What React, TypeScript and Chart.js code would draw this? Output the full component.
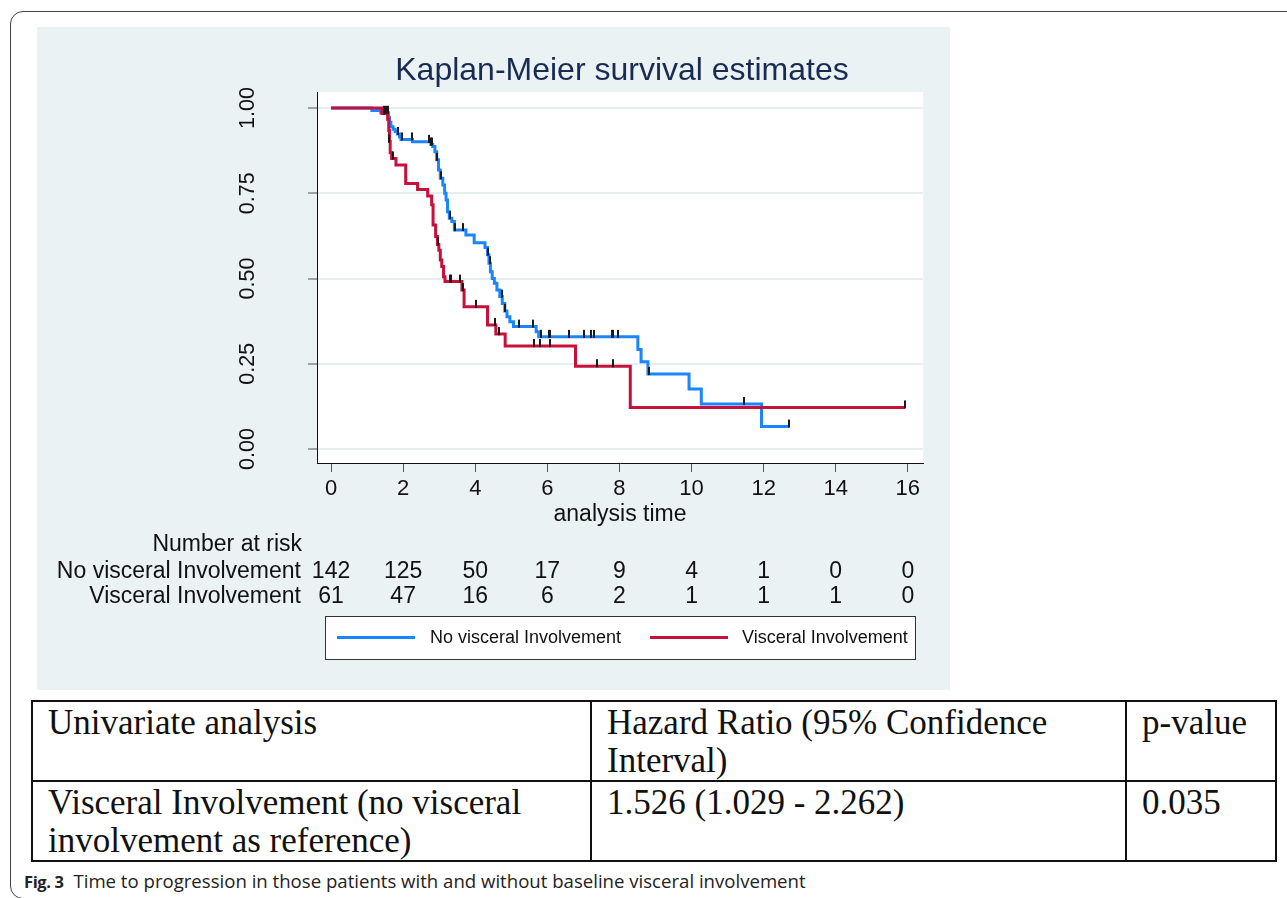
import React, { useEffect, useRef } from "react";
import { Chart, registerables } from "chart.js";
Chart.register(...registerables);

// ---------- data ----------
const chartTitle = "Kaplan-Meier survival estimates";
const xAxisTitle = "analysis time";
const xTicks = [0, 2, 4, 6, 8, 10, 12, 14, 16];
const yTicks = [0, 0.25, 0.5, 0.75, 1];
const yTickLabels = ["0.00", "0.25", "0.50", "0.75", "1.00"];
const seriesNames = ["No visceral Involvement", "Visceral Involvement"];

const timesNo = [0, 1.13, 1.38, 1.59, 1.62, 1.66, 1.72, 1.78, 1.84, 1.9, 1.94, 2.26, 2.77, 2.82, 2.88, 2.93, 2.98, 3.03, 3.1, 3.15, 3.19, 3.23, 3.28, 3.35, 3.42, 3.74, 3.97, 4.27, 4.34, 4.38, 4.42, 4.47, 4.53, 4.6, 4.68, 4.75, 4.82, 4.88, 4.96, 5.06, 5.69, 5.76, 8.51, 8.6, 8.79, 9.93, 10.27, 11.94, 12.7];
const survNo = [1.0, 0.993, 0.986, 0.972, 0.958, 0.945, 0.938, 0.931, 0.924, 0.915, 0.908, 0.901, 0.893, 0.887, 0.872, 0.848, 0.818, 0.794, 0.774, 0.75, 0.73, 0.696, 0.677, 0.667, 0.642, 0.628, 0.605, 0.591, 0.57, 0.545, 0.52, 0.5, 0.486, 0.466, 0.447, 0.427, 0.405, 0.388, 0.373, 0.359, 0.344, 0.329, 0.292, 0.256, 0.22, 0.176, 0.132, 0.066, 0.066];

const timesVisc = [0, 1.41, 1.57, 1.6, 1.62, 1.64, 1.68, 1.8, 2.07, 2.4, 2.68, 2.79, 2.83, 2.9, 2.95, 2.99, 3.03, 3.07, 3.12, 3.16, 3.63, 3.69, 4.34, 4.57, 4.83, 6.78, 8.3, 15.92];
const survVisc = [1.0, 0.984, 0.967, 0.934, 0.902, 0.869, 0.852, 0.833, 0.779, 0.761, 0.742, 0.716, 0.657, 0.623, 0.6, 0.583, 0.554, 0.535, 0.505, 0.491, 0.466, 0.417, 0.364, 0.337, 0.302, 0.243, 0.122, 0.122];

const censorTimesNo = [1.48, 1.53, 1.58, 1.87, 1.96, 2.24, 2.72, 2.78, 2.8, 2.95, 3.05, 3.31, 3.44, 3.65, 4.34, 4.4, 4.74, 4.83, 5.2, 5.59, 5.81, 6.05, 6.08, 6.61, 7.01, 7.2, 7.28, 7.78, 7.81, 7.96, 8.81, 11.45, 12.7];
const censorTimesVisc = [1.47, 1.62, 1.71, 2.98, 3.3, 3.33, 3.58, 3.67, 4.02, 4.56, 4.65, 4.67, 5.64, 5.8, 6.08, 7.38, 7.83, 15.92];

const riskTitle = "Number at risk";
const riskNo = [142, 125, 50, 17, 9, 4, 1, 0, 0];
const riskVisc = [61, 47, 16, 6, 2, 1, 1, 1, 0];

const tableHeader = ["Univariate analysis", "Hazard Ratio (95% Confidence", "Interval)", "p-value"];
const tableRow = ["Visceral Involvement (no visceral", "involvement as reference)", "1.526 (1.029 - 2.262)", "0.035"];
const captionLabel = "Fig. 3";
const captionText = "Time to progression in those patients with and without baseline visceral involvement";

// ---------- style ----------
const BLUE = "#1a85ff";
const RED = "#c8103c";
const PANEL = "#eaf2f3";
const GRID = "#e5eef0";
const TITLE_COLOR = "#1a2a52";
const FONT = "'Liberation Sans', Arial, sans-serif";

function survAt(times: number[], surv: number[], t: number) {
  let s = surv[0];
  for (let i = 0; i < times.length; i++) if (times[i] <= t) s = surv[i];
  return s;
}

const toPts = (xs: number[], ys: number[]) => xs.map((x, i) => ({ x, y: ys[i] }));

export default function App() {
  const canvasRef = useRef<HTMLCanvasElement>(null);

  useEffect(() => {
    const canvas = canvasRef.current!;
    const tick = document.createElement("canvas");
    tick.width = 2;
    tick.height = 16;
    const tctx = tick.getContext("2d")!;
    tctx.fillStyle = "#1a1a1a";
    tctx.fillRect(0, 1, 2, 8);

    const decor = {
      id: "kmDecor",
      beforeDraw(chart: any) {
        const { ctx, chartArea: a, width, height } = chart;
        ctx.save();
        ctx.fillStyle = PANEL;
        ctx.fillRect(0, 0, width, height);
        ctx.fillStyle = "#ffffff";
        ctx.fillRect(a.left, a.top, a.right - a.left, a.bottom - a.top);
        ctx.restore();
      },
      afterDraw(chart: any) {
        const { ctx, chartArea: a, scales } = chart;
        const xs = scales.x;
        const ys = scales.y;
        const cx = (a.left + a.right) / 2;
        ctx.save();
        // title
        ctx.fillStyle = TITLE_COLOR;
        ctx.font = `32px ${FONT}`;
        ctx.textAlign = "center";
        ctx.textBaseline = "alphabetic";
        ctx.fillText(chartTitle, cx + 2, 53);
        // y tick labels (rotated)
        ctx.fillStyle = "#111";
        ctx.font = `21.5px ${FONT}`;
        yTicks.forEach((v, i) => {
          const y = ys.getPixelForValue(v);
          ctx.save();
          ctx.translate(217, y);
          ctx.rotate(-Math.PI / 2);
          ctx.textAlign = "center";
          ctx.fillText(yTickLabels[i], 0, 0);
          ctx.restore();
        });
        // x axis title
        ctx.font = `23px ${FONT}`;
        ctx.textAlign = "center";
        ctx.fillText(xAxisTitle, cx, 494);
        // number at risk
        ctx.textAlign = "right";
        ctx.fillText(riskTitle, 265, 524);
        ctx.fillText(seriesNames[0], 264, 551);
        ctx.fillText(seriesNames[1], 264, 576);
        ctx.textAlign = "center";
        xTicks.forEach((t, i) => {
          const x = xs.getPixelForValue(t);
          ctx.fillText(String(riskNo[i]), x, 551);
          ctx.fillText(String(riskVisc[i]), x, 576);
        });
        // legend
        const lx = 288, ly = 589, lw = 590, lh = 43;
        ctx.fillStyle = "#fff";
        ctx.fillRect(lx, ly, lw, lh);
        ctx.strokeStyle = "#333";
        ctx.lineWidth = 1;
        ctx.strokeRect(lx + 0.5, ly + 0.5, lw, lh);
        const items = [
          { name: seriesNames[0], color: BLUE, x0: 300, tx: 393 },
          { name: seriesNames[1], color: RED, x0: 613, tx: 705 },
        ];
        ctx.font = `18px ${FONT}`;
        ctx.textAlign = "left";
        ctx.textBaseline = "middle";
        items.forEach((it) => {
          ctx.strokeStyle = it.color;
          ctx.lineWidth = 3;
          ctx.beginPath();
          ctx.moveTo(it.x0, ly + 21.5);
          ctx.lineTo(it.x0 + 78, ly + 21.5);
          ctx.stroke();
          ctx.fillStyle = "#111";
          ctx.fillText(it.name, it.tx, ly + 22);
        });
        ctx.restore();
      },
    };

    const chart = new Chart(canvas, {
      type: "line",
      data: {
        datasets: [
          {
            label: "censored-no",
            data: censorTimesNo.map((t) => ({ x: t, y: survAt(timesNo, survNo, t) })),
            showLine: false,
            pointStyle: tick as any,
            pointRadius: 4,
            pointHoverRadius: 4,
            order: 0,
          },
          {
            label: "censored-visc",
            data: censorTimesVisc.map((t) => ({ x: t, y: survAt(timesVisc, survVisc, t) })),
            showLine: false,
            pointStyle: tick as any,
            pointRadius: 4,
            pointHoverRadius: 4,
            order: 0,
          },
          {
            label: seriesNames[1],
            data: toPts(timesVisc, survVisc),
            borderColor: RED,
            backgroundColor: RED,
            borderWidth: 3,
            stepped: true,
            pointRadius: 0,
            fill: false,
            borderJoinStyle: "miter",
            borderCapStyle: "butt",
            order: 1,
          },
          {
            label: seriesNames[0],
            data: toPts(timesNo, survNo),
            borderColor: BLUE,
            backgroundColor: BLUE,
            borderWidth: 3,
            stepped: true,
            pointRadius: 0,
            fill: false,
            borderJoinStyle: "miter",
            borderCapStyle: "butt",
            order: 2,
          },
        ] as any,
      },
      options: {
        responsive: false,
        animation: false,
        events: [],
        layout: { padding: { left: 0, top: 65, right: 27, bottom: 0 } },
        plugins: {
          legend: { display: false },
          tooltip: { enabled: false },
          title: { display: false },
        },
        scales: {
          x: {
            type: "linear",
            min: -0.39,
            max: 16.42,
            afterBuildTicks: (s: any) => {
              s.ticks = xTicks.map((v) => ({ value: v }));
            },
            afterFit: (s: any) => {
              s.height = 227;
              s.paddingLeft = 0;
              s.paddingRight = 0;
            },
            grid: {
              drawOnChartArea: false,
              drawTicks: true,
              tickLength: 9,
              tickColor: "#555",
              tickWidth: 1,
            },
            border: { display: true, color: "#111", width: 1 },
            ticks: {
              font: { family: FONT, size: 22 },
              color: "#111",
              padding: 4,
              maxRotation: 0,
              autoSkip: false,
              callback: (v: any) => String(v),
            },
          },
          y: {
            type: "linear",
            min: -0.041,
            max: 1.047,
            afterBuildTicks: (s: any) => {
              s.ticks = yTicks.map((v) => ({ value: v }));
            },
            afterFit: (s: any) => {
              s.width = 280;
              s.paddingTop = 0;
              s.paddingBottom = 0;
            },
            grid: {
              color: GRID,
              lineWidth: 2,
              drawTicks: true,
              tickLength: 9,
              tickColor: "#555",
              tickWidth: 1,
            },
            border: { display: true, color: "#111", width: 1 },
            ticks: { display: false },
          },
        },
      } as any,
      plugins: [decor],
    });
    return () => chart.destroy();
  }, []);

  const cell: React.CSSProperties = {
    border: "2px solid #111",
    verticalAlign: "top",
    padding: "2px 10px 0 15px",
    textAlign: "left",
  };

  return (
    <div
      style={{
        position: "fixed",
        left: 0,
        top: 0,
        width: 1287,
        height: 898,
        overflow: "hidden",
        background: "#fff",
      }}
    >
      <div
        style={{
          position: "absolute",
          left: 10,
          top: 11,
          width: 1320,
          height: 888,
          border: "1px solid #444",
          borderRadius: 13,
          boxSizing: "border-box",
        }}
      />
      <canvas
        ref={canvasRef}
        width={913}
        height={663}
        style={{ position: "absolute", left: 37, top: 27, width: 913, height: 663 }}
      />
      <table
        style={{
          position: "absolute",
          left: 31,
          top: 700,
          width: 1244,
          borderCollapse: "collapse",
          fontFamily: "'Liberation Serif', 'Times New Roman', serif",
          fontSize: 35,
          lineHeight: "38px",
          color: "#111",
          tableLayout: "fixed",
        }}
      >
        <colgroup>
          <col style={{ width: 559 }} />
          <col style={{ width: 535 }} />
          <col style={{ width: 150 }} />
        </colgroup>
        <tbody>
          <tr style={{ height: 78 }}>
            <td style={cell}>{tableHeader[0]}</td>
            <td style={cell}>
              {tableHeader[1]}
              <br />
              {tableHeader[2]}
            </td>
            <td style={cell}>{tableHeader[3]}</td>
          </tr>
          <tr style={{ height: 80 }}>
            <td style={cell}>
              {tableRow[0]}
              <br />
              {tableRow[1]}
            </td>
            <td style={cell}>{tableRow[2]}</td>
            <td style={cell}>{tableRow[3]}</td>
          </tr>
        </tbody>
      </table>
      <div
        style={{
          position: "absolute",
          left: 24,
          top: 869,
          fontFamily: "'Open Sans', 'Liberation Sans', sans-serif",
          fontSize: 18.6,
          lineHeight: "24px",
          color: "#222",
          whiteSpace: "nowrap",
        }}
      >
        <span style={{ fontWeight: 700, fontSize: 16.5, letterSpacing: -0.4 }}>{captionLabel}</span>
        <span style={{ marginLeft: 10 }}>{captionText}</span>
      </div>
    </div>
  );
}
